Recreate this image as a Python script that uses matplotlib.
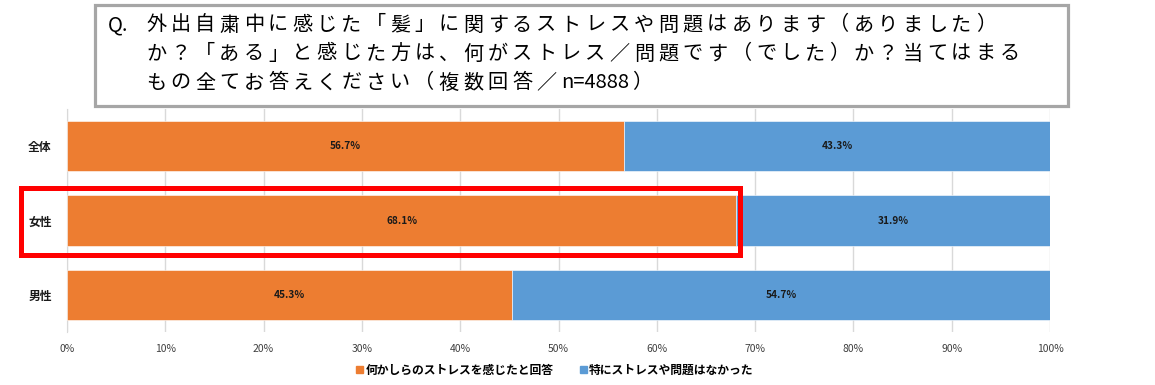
import matplotlib
matplotlib.use('Agg')
import matplotlib.pyplot as plt
import matplotlib.ticker as tkr
from matplotlib.patches import Rectangle, Patch

plt.rcParams['font.family'] = ['Noto Sans CJK JP', 'DejaVu Sans']

categories = ['全体', '女性', '男性']
stressed = [56.7, 68.1, 45.3]
not_stressed = [43.3, 31.9, 54.7]
series_names = ['何かしらのストレスを感じたと回答', '特にストレスや問題はなかった']
title_lines = ['外出自粛中に感じた「髪」に関するストレスや問題はあります（ありました）',
               'か？「ある」と感じた方は、何がストレス／問題です（でした）か？当てはまる',
               'もの全てお答えください（複数回答／n=4888）']

ORANGE = '#ED7D31'
BLUE = '#5B9BD5'
W, H = 1155, 385


def px(x, y):
    # pixel (from top-left) -> figure fraction
    return x / W, 1 - y / H


def pct(x, _):
    return '%.0f%%' % x


def spaced_text(fig, x, y, s, size):
    # the original uses wide letter spacing for full-width glyphs,
    # so place them one by one; keep ascii runs together
    run = ''
    for ch in s + '\0':
        if ch != '\0' and ord(ch) < 128:
            run += ch
            continue
        if run:
            fig.text(*px(x, y), run, fontsize=size, va='center', ha='left', zorder=6)
            x += 11.2 * len(run) + 4
            run = ''
        if ch == '\0':
            break
        fig.text(*px(x, y), ch, fontsize=size, va='center', ha='left', zorder=6)
        x += 24.4


def main():
    fig = plt.figure(figsize=(W / 100, H / 100), dpi=100)
    left, top = px(67, 109)
    right, bottom = px(1050, 332)
    ax = fig.add_axes([left, bottom, right - left, top - bottom])

    y = range(len(categories))
    ax.barh(y, stressed, height=0.68, color=ORANGE, edgecolor='white', linewidth=0.4, zorder=3)
    ax.barh(y, not_stressed, left=stressed, height=0.68, color=BLUE, edgecolor='white',
            linewidth=0.4, zorder=3)
    for i in y:
        ax.text(stressed[i] / 2, i, '%.1f%%' % stressed[i], ha='center', va='center',
                fontsize=7.3, fontweight='bold', color='#1a1a1a', zorder=4)
        ax.text(stressed[i] + not_stressed[i] / 2, i, '%.1f%%' % not_stressed[i], ha='center',
                va='center', fontsize=7.3, fontweight='bold', color='#1a1a1a', zorder=4)

    ax.set_xlim(0, 100)
    ax.set_ylim(2.5, -0.5)
    ax.set_xticks(range(0, 101, 10))
    ax.xaxis.set_major_formatter(tkr.FuncFormatter(pct))
    ax.set_yticks(list(y))
    ax.set_yticklabels(categories, fontsize=8.5, fontweight='bold')
    ax.tick_params(axis='both', length=0, colors='#404040')
    ax.tick_params(axis='x', labelsize=7.5, pad=9)
    ax.tick_params(axis='y', pad=11, labelcolor='#1a1a1a')
    ax.grid(axis='x', color='#D9D9D9', linewidth=1, zorder=0)
    for s in ['top', 'right', 'bottom']:
        ax.spines[s].set_visible(False)
    ax.spines['left'].set_color('#D9D9D9')

    handles = [Patch(color=ORANGE), Patch(color=BLUE)]
    fig.legend(handles, series_names, loc='center', bbox_to_anchor=(px(555, 370)), ncol=2,
               frameon=False, handlelength=0.6, handleheight=0.6, handletextpad=0.2,
               columnspacing=2.2, prop={'size': 8.5, 'weight': 'bold'})

    # question box
    x0, y0 = px(94.5, 105.5)
    x1, y1 = px(1067.5, 5.5)
    fig.patches.append(Rectangle((x0, y0), x1 - x0, y1 - y0, transform=fig.transFigure,
                                 facecolor='white', edgecolor='#A6A6A6', linewidth=2.3, zorder=5))
    fig.text(*px(108, 25), 'Q.', fontsize=14.5, va='center', ha='left', zorder=6)
    for k, line in enumerate(title_lines):
        spaced_text(fig, 146, 25 + 29 * k, line, 14.5)

    # highlight around 女性
    rx0, ry0 = px(20.5, 254.5)
    rx1, ry1 = px(739.5, 187.5)
    fig.patches.append(Rectangle((rx0, ry0), rx1 - rx0, ry1 - ry0, transform=fig.transFigure,
                                 fill=False, edgecolor='#FF0000', linewidth=3.6, zorder=6))

    fig.savefig('out.png', dpi=100)


if __name__ == '__main__':
    main()
